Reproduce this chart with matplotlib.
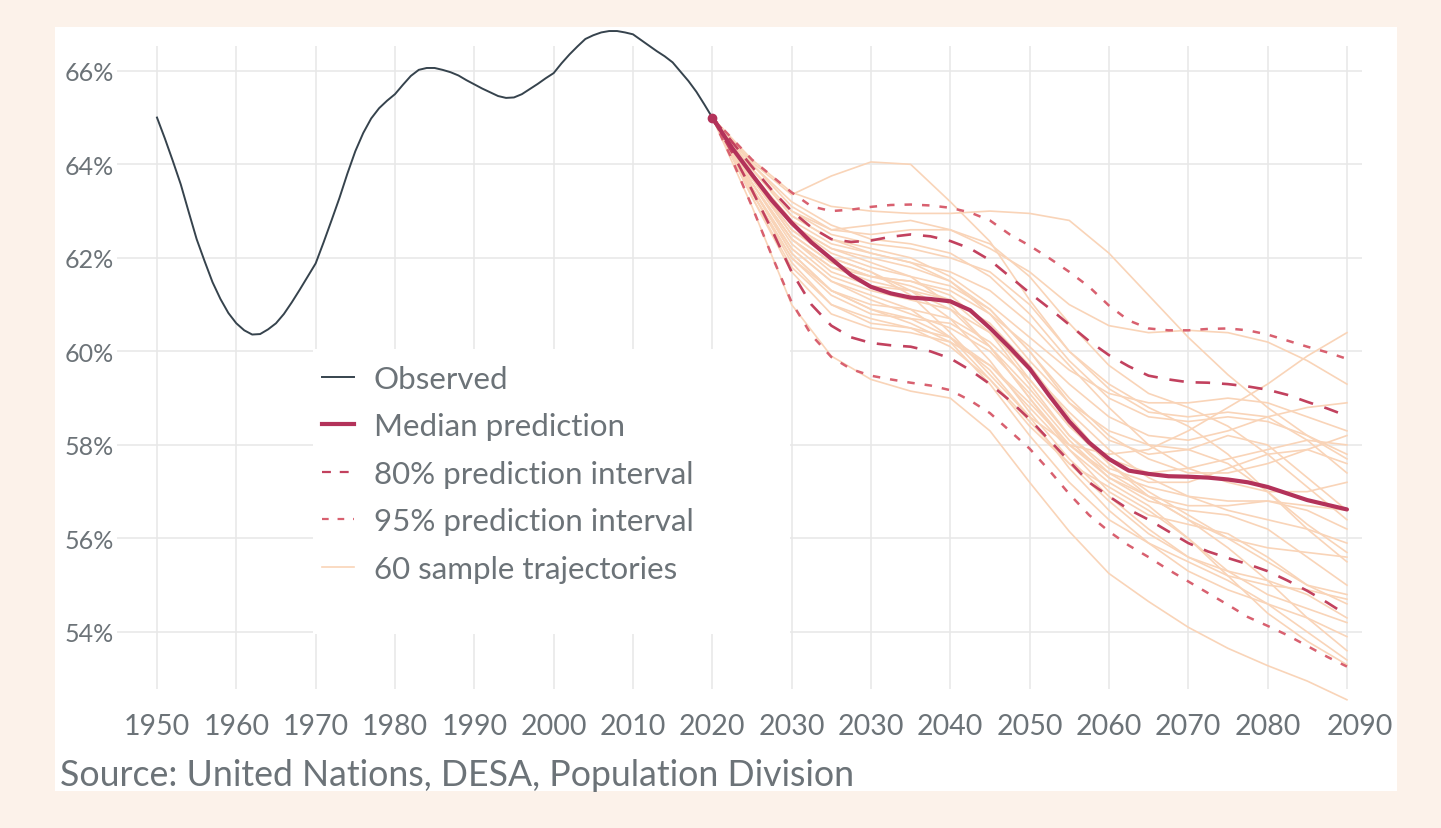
import matplotlib
matplotlib.use("Agg")
import matplotlib.pyplot as plt
from matplotlib.patches import Rectangle
from matplotlib.lines import Line2D
from matplotlib.transforms import ScaledTranslation
import numpy as np

# ---------------- data ----------------
obs_years = np.arange(1950, 2021)
obs_share = [65.00, 64.55, 64.07, 63.57, 62.98, 62.40, 61.93, 61.48, 61.12, 60.82,
             60.60, 60.45, 60.36, 60.37, 60.47, 60.60, 60.80, 61.05, 61.32, 61.60,
             61.88, 62.33, 62.80, 63.28, 63.80, 64.28, 64.67, 64.98, 65.20, 65.36,
             65.50, 65.70, 65.89, 66.02, 66.06, 66.06, 66.02, 65.97, 65.90, 65.80,
             65.71, 65.62, 65.54, 65.46, 65.42, 65.43, 65.50, 65.61, 65.72, 65.84,
             65.95, 66.16, 66.35, 66.52, 66.68, 66.76, 66.82, 66.85, 66.85, 66.82,
             66.78, 66.66, 66.54, 66.42, 66.31, 66.18, 65.98, 65.78, 65.55, 65.28,
             65.00]

proj_years = np.arange(2020, 2100.01, 2.5)
median = [65.0, 64.35, 63.78, 63.23, 62.75, 62.33, 61.98, 61.63, 61.38, 61.24,
          61.15, 61.12, 61.07, 60.88, 60.5, 60.08, 59.63, 59.05, 58.5, 58.05,
          57.7, 57.45, 57.38, 57.33, 57.32, 57.3, 57.26, 57.2, 57.1, 56.96,
          56.82, 56.72, 56.62]
pi80_high = [65.0, 64.48, 63.95, 63.45, 63.0, 62.65, 62.4, 62.34, 62.37, 62.45,
             62.5, 62.46, 62.36, 62.2, 61.95, 61.6, 61.25, 60.92, 60.57, 60.22,
             59.92, 59.68, 59.48, 59.4, 59.34, 59.33, 59.3, 59.25, 59.18, 59.07,
             58.92, 58.78, 58.62]
pi80_low = [65.0, 64.25, 63.45, 62.6, 61.7, 61.0, 60.55, 60.3, 60.18, 60.13,
            60.1, 60.0, 59.85, 59.6, 59.3, 58.95, 58.55, 58.1, 57.65, 57.2,
            56.9, 56.62, 56.4, 56.15, 55.9, 55.72, 55.58, 55.45, 55.3, 55.1,
            54.88, 54.63, 54.36]
pi95_high = [65.0, 64.55, 64.1, 63.75, 63.4, 63.1, 63.0, 63.03, 63.09, 63.13,
             63.14, 63.12, 63.07, 62.97, 62.8, 62.5, 62.26, 61.99, 61.7, 61.38,
             60.98, 60.66, 60.49, 60.45, 60.45, 60.48, 60.49, 60.45, 60.36, 60.23,
             60.1, 59.98, 59.84]
pi95_low = [65.0, 64.1, 63.1, 62.05, 61.05, 60.35, 59.88, 59.62, 59.48, 59.4,
            59.33, 59.27, 59.17, 58.95, 58.68, 58.3, 57.92, 57.45, 56.95, 56.5,
            56.15, 55.85, 55.6, 55.33, 55.08, 54.83, 54.58, 54.32, 54.13, 53.93,
            53.7, 53.47, 53.26]

traj_years = np.arange(2020, 2100.01, 5)
trajectories = [
    [65.0, 64.05, 63.35, 63.75, 64.05, 64.0, 63.2, 62.35, 61.1, 60.0, 59.3, 58.8, 58.4, 57.8, 57.0, 56.2, 55.5],
    [65.0, 64.1, 63.4, 63.1, 63.0, 62.95, 62.95, 63.0, 62.95, 62.8, 62.1, 61.2, 60.3, 59.5, 58.8, 58.2, 57.7],
    [65.0, 63.7, 62.6, 62.0, 61.7, 61.2, 60.4, 59.5, 58.6, 58.0, 57.8, 57.9, 58.3, 58.8, 59.3, 59.9, 60.4],
    [65.0, 63.9, 63.0, 62.6, 62.7, 62.8, 62.6, 62.2, 61.7, 61.0, 60.55, 60.4, 60.45, 60.4, 60.2, 59.8, 59.3],
    [65.0, 63.1, 61.0, 59.9, 59.4, 59.15, 59.0, 58.3, 57.2, 56.15, 55.25, 54.65, 54.1, 53.65, 53.28, 52.95, 52.55],
    [65.0, 63.5, 62.1, 61.3, 60.9, 60.6, 60.2, 59.3, 58.2, 57.2, 56.4, 55.9, 55.5, 55.1, 54.6, 54.0, 53.4],
    [65.0, 63.8, 62.8, 62.3, 62.1, 61.9, 61.5, 60.8, 59.8, 58.9, 58.3, 58.0, 57.9, 57.6, 57.0, 56.3, 55.7],
    [65.0, 63.6, 62.3, 61.6, 61.3, 61.1, 60.9, 60.4, 59.6, 58.7, 57.9, 57.3, 56.9, 56.6, 56.4, 56.2, 55.9],
    [65.0, 63.4, 61.9, 61.0, 60.6, 60.5, 60.3, 59.7, 58.8, 57.9, 57.2, 56.7, 56.0, 55.2, 54.4, 53.8, 53.3],
    [65.0, 64.0, 63.2, 62.7, 62.4, 62.3, 62.1, 61.6, 60.8, 59.8, 59.0, 58.6, 58.5, 58.6, 58.5, 58.2, 57.8],
    [65.0, 63.7, 62.5, 61.9, 61.6, 61.5, 61.2, 60.5, 59.4, 58.4, 57.7, 57.4, 57.5, 57.7, 57.9, 58.1, 58.0],
    [65.0, 63.5, 62.2, 61.5, 61.2, 60.9, 60.3, 59.4, 58.4, 57.6, 57.1, 56.6, 56.0, 55.3, 54.8, 54.5, 54.2],
    [65.0, 63.9, 62.9, 62.4, 62.2, 62.0, 61.6, 61.0, 60.3, 59.6, 59.1, 58.9, 58.9, 59.0, 58.9, 58.6, 58.3],
    [65.0, 63.6, 62.4, 61.8, 61.5, 61.3, 60.9, 60.1, 59.0, 57.9, 57.0, 56.5, 56.3, 56.1, 55.6, 55.0, 54.6],
    [65.0, 63.3, 61.7, 60.8, 60.5, 60.4, 60.2, 59.7, 58.9, 58.0, 57.3, 56.9, 56.7, 56.7, 56.8, 56.6, 56.2],
    [65.0, 63.8, 62.7, 62.1, 61.8, 61.6, 61.4, 60.9, 60.0, 58.9, 58.1, 57.8, 57.9, 58.2, 58.0, 57.3, 56.6],
    [65.0, 63.7, 62.6, 62.0, 61.7, 61.3, 60.7, 59.8, 58.7, 57.7, 56.9, 56.2, 55.6, 55.2, 55.0, 54.9, 54.7],
    [65.0, 64.0, 63.1, 62.6, 62.5, 62.6, 62.6, 62.3, 61.6, 60.6, 59.7, 59.1, 58.8, 58.4, 57.8, 57.1, 56.4],
    [65.0, 63.4, 62.0, 61.2, 60.8, 60.7, 60.6, 60.1, 59.2, 58.2, 57.4, 56.9, 56.4, 55.8, 55.1, 54.3, 53.6],
    [65.0, 63.6, 62.4, 61.8, 61.6, 61.5, 61.3, 60.8, 60.1, 59.3, 58.6, 58.2, 58.1, 58.3, 58.6, 58.8, 58.9],
    [65.0, 63.5, 62.2, 61.5, 61.1, 60.8, 60.5, 60.0, 59.1, 58.1, 57.3, 56.8, 56.6, 56.5, 56.2, 55.6, 55.0],
    [65.0, 63.8, 62.7, 62.2, 61.9, 61.6, 61.0, 60.1, 59.0, 58.0, 57.4, 57.1, 56.9, 56.8, 56.8, 56.7, 56.6],
    [65.0, 63.3, 61.8, 61.0, 60.7, 60.5, 60.1, 59.4, 58.5, 57.6, 56.8, 56.1, 55.6, 55.3, 55.1, 54.8, 54.3],
    [65.0, 63.9, 62.9, 62.4, 62.1, 61.9, 61.7, 61.3, 60.6, 59.7, 58.8, 58.0, 57.5, 57.2, 57.0, 57.0, 57.2],
    [65.0, 63.6, 62.4, 61.7, 61.4, 61.3, 61.1, 60.6, 59.7, 58.6, 57.6, 56.9, 56.4, 56.0, 55.8, 55.7, 55.6],
    [65.0, 63.7, 62.5, 61.9, 61.6, 61.4, 61.1, 60.4, 59.3, 58.2, 57.5, 57.2, 57.2, 57.5, 57.8, 57.9, 57.6],
    [65.0, 63.5, 62.1, 61.3, 60.9, 60.7, 60.3, 59.6, 58.6, 57.5, 56.6, 55.9, 55.3, 54.9, 54.6, 54.3, 53.9],
    [65.0, 63.8, 62.7, 62.2, 62.0, 61.8, 61.5, 60.9, 60.0, 59.0, 58.2, 57.7, 57.4, 57.4, 57.6, 57.9, 58.2],
    [65.0, 63.9, 63.0, 62.5, 62.3, 62.2, 62.0, 61.7, 61.0, 60.0, 59.2, 58.7, 58.6, 58.7, 58.6, 58.1, 57.4],
    [65.0, 63.4, 62.0, 61.3, 61.0, 60.9, 60.7, 60.2, 59.4, 58.4, 57.6, 57.0, 56.5, 56.0, 55.5, 55.0, 54.8],
]

x_ticks = np.arange(1950, 2101, 10)
x_tick_labels = ["1950", "1960", "1970", "1980", "1990", "2000", "2010", "2020",
                 "2030", "2030", "2040", "2050", "2060", "2070", "2080", "2090"]
y_ticks = [54, 56, 58, 60, 62, 64, 66]
y_tick_labels = [f"{v}%" for v in y_ticks]

legend_labels = ["Observed", "Median prediction", "80% prediction interval",
                 "95% prediction interval", "60 sample trajectories"]
source_note = "Source: United Nations, DESA, Population Division"

# ---------------- style ----------------
W, H = 1441, 829
BG = "#fcf2ea"
TEXT = "#6c7378"
GRID = "#e7e7e7"
C_OBS = "#36434d"
C_MED = "#b3325a"
C_80 = "#c2415e"
C_95 = "#d8606f"
C_TRAJ = "#f9d4b8"
FONT = "Lato"

fig = plt.figure(figsize=(W / 100, H / 100), dpi=100)
fig.patch.set_facecolor(BG)
fig.add_artist(Rectangle((55 / W, 1 - 792 / H), (1397 - 55) / W, (792 - 28) / H,
                         transform=fig.transFigure, facecolor="white",
                         edgecolor="none", zorder=0))

ax = fig.add_axes([117 / W, 1 - 690 / H, (1362 - 117) / W, (690 - 47) / H])
ax.set_facecolor("white")
ax.set_xlim(1944.96, 2101.9)
ax.set_ylim(52.78, 66.53)
for s in ax.spines.values():
    s.set_visible(False)

ax.set_xticks(x_ticks)
ax.set_xticklabels(x_tick_labels, fontfamily=FONT, fontsize=20.5, color=TEXT)
ax.set_yticks(y_ticks)
ax.set_yticklabels(y_tick_labels, fontfamily=FONT, fontsize=18, color=TEXT)
ax.tick_params(axis="both", length=0)
ax.tick_params(axis="x", pad=17)
ax.tick_params(axis="y", pad=2)
ax.set_axisbelow(True)
ax.grid(True, color=GRID, linewidth=1.1, zorder=0.5)

# the last year label sits a little to the right of its gridline
last_label = ax.get_xticklabels()[-1]
last_label.set_transform(last_label.get_transform()
                         + ScaledTranslation(0.13, 0, fig.dpi_scale_trans))

# blank the grid behind the legend
ax.add_patch(Rectangle((1969.7, 53.96), 2029.85 - 1969.7, 60.04 - 53.96,
                       facecolor="white", edgecolor="none", zorder=0.6))

for tr in trajectories:
    ax.plot(traj_years, tr, color=C_TRAJ, lw=1.2, zorder=1, clip_on=False,
            solid_joinstyle="round")

ax.plot(proj_years, pi95_high, color=C_95, lw=1.8, dashes=(3, 4), zorder=2)
ax.plot(proj_years, pi95_low, color=C_95, lw=1.8, dashes=(3, 4), zorder=2)
ax.plot(proj_years, pi80_high, color=C_80, lw=1.9, dashes=(5.5, 4.5), zorder=2)
ax.plot(proj_years, pi80_low, color=C_80, lw=1.9, dashes=(5.5, 4.5), zorder=2)
ax.plot(proj_years, median, color=C_MED, lw=3, zorder=3, solid_capstyle="round",
        solid_joinstyle="round")
ax.plot(obs_years, obs_share, color=C_OBS, lw=1.4, zorder=3, clip_on=False,
        solid_joinstyle="round")
ax.plot([proj_years[0]], [median[0]], "o", color=C_MED, ms=6, zorder=4)

handles = [
    Line2D([], [], color=C_OBS, lw=1.4),
    Line2D([], [], color=C_MED, lw=3),
    Line2D([], [], color=C_80, lw=1.6, dashes=(4, 4)),
    Line2D([], [], color=C_95, lw=1.6, dashes=(3, 4)),
    Line2D([], [], color=C_TRAJ, lw=1.2),
]
leg = ax.legend(handles, legend_labels, loc="upper left",
                bbox_to_anchor=(322 / W, 1 - 366 / H),
                bbox_transform=fig.transFigure, frameon=False,
                prop={"family": FONT, "size": 22.5},
                handlelength=1.02, handletextpad=0.64, labelspacing=0.62,
                borderpad=0, borderaxespad=0)
for t in leg.get_texts():
    t.set_color(TEXT)
leg.set_zorder(5)

fig.text(60 / W, 1 - 776 / H, source_note, fontfamily=FONT, fontsize=25.7,
         color=TEXT, ha="left", va="center")

fig.savefig("out.png", dpi=100, facecolor=BG)
